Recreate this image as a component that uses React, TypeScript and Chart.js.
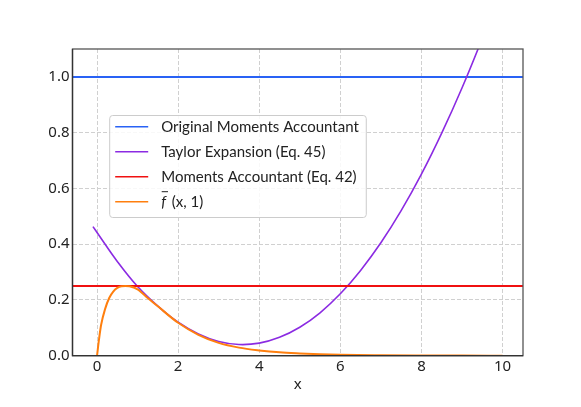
import React, { useEffect, useRef } from "react";
import { Chart, registerables } from "chart.js";

Chart.register(...registerables);

// Axis ranges and ticks
const X_MIN = -0.605;
const X_MAX = 10.505;
const Y_MIN = 0;
const Y_MAX = 1.1;
const xTickValues = [0, 2, 4, 6, 8, 10];
const yTickValues = [0, 0.2, 0.4, 0.6, 0.8, 1.0];

// Constant levels
const originalMomentsLevel = 1.0;
const momentsAccountantLevel = 0.25;

// Taylor Expansion (Eq. 45)
const taylorX = [-0.1, 0, 0.5, 1.0, 1.5, 2.0, 2.5, 3.0, 3.5, 4.0, 4.5, 5.0, 5.5, 6.0, 6.5, 7.0, 7.5, 8.0, 8.5, 9.0, 9.5, 10.0];
const taylorY = [0.463, 0.442, 0.338, 0.248, 0.178, 0.120, 0.078, 0.051, 0.040, 0.045, 0.066, 0.102, 0.154, 0.222, 0.306, 0.405, 0.520, 0.651, 0.798, 0.960, 1.138, 1.33];

// f-bar(x, 1)
const fbarX = [0, 0.05, 0.1, 0.2, 0.3, 0.4, 0.5, 0.6, 0.7, 0.8, 1.0, 1.25, 1.5, 2.0, 2.5, 3.0, 3.5, 4.0, 4.5, 5.0, 5.5, 6.0, 7.0, 8.0, 9.0, 10.0];
const fbarY = [0, 0.06, 0.11, 0.168, 0.207, 0.23, 0.243, 0.249, 0.25, 0.249, 0.238, 0.207, 0.177, 0.118, 0.075, 0.046, 0.029, 0.019, 0.012, 0.008, 0.005, 0.003, 0.0015, 0.0008, 0.0004, 0.0002];

const seriesLabels = [
  "Original Moments Accountant",
  "Taylor Expansion (Eq. 45)",
  "Moments Accountant (Eq. 42)",
  "f̄ (x, 1)",
];
const seriesColors = ["#2962f5", "#8b2be2", "#f01010", "#ff7f0e"];

const FONT_FAMILY = "'Noto Sans', sans-serif";
const LEGEND_FONT = "Lato, 'Noto Sans', sans-serif";
const TEXT_COLOR = "#222222";

const frameAndLegendPlugin = {
  id: "frameAndLegend",
  afterDatasetsDraw(chart: any) {
    const { ctx, chartArea } = chart;
    ctx.save();
    // frame
    ctx.lineWidth = 1.3;
    ctx.strokeStyle = "#555555";
    ctx.strokeRect(chartArea.left, chartArea.top, chartArea.right - chartArea.left, chartArea.bottom - chartArea.top);
    ctx.strokeStyle = "#333333";
    ctx.beginPath();
    ctx.moveTo(chartArea.left, chartArea.top);
    ctx.lineTo(chartArea.left, chartArea.bottom);
    ctx.lineTo(chartArea.right, chartArea.bottom);
    ctx.stroke();

    // legend
    const fontSize = 15;
    ctx.font = `${fontSize}px ${LEGEND_FONT}`;
    const boxLeft = chartArea.left + 36.7;
    const boxTop = chartArea.top + 66;
    const rowH = 25;
    const firstRowY = boxTop + 11.7;
    const lineX0 = boxLeft + 6;
    const lineX1 = boxLeft + 39;
    const textX = boxLeft + 52;
    let maxW = 0;
    seriesLabels.forEach((l) => {
      maxW = Math.max(maxW, ctx.measureText(l).width);
    });
    const boxW = textX - boxLeft + maxW + 7;
    const boxH = rowH * seriesLabels.length + 2;
    ctx.fillStyle = "rgba(255,255,255,0.85)";
    ctx.strokeStyle = "#cccccc";
    ctx.lineWidth = 1;
    ctx.beginPath();
    (ctx as any).roundRect(boxLeft + 0.5, boxTop + 0.5, boxW, boxH, 3);
    ctx.fill();
    ctx.stroke();

    ctx.textBaseline = "middle";
    ctx.textAlign = "left";
    seriesLabels.forEach((label, i) => {
      const y = firstRowY + i * rowH;
      ctx.strokeStyle = seriesColors[i];
      ctx.lineWidth = 1.6;
      ctx.beginPath();
      ctx.moveTo(lineX0, y);
      ctx.lineTo(lineX1, y);
      ctx.stroke();
      ctx.fillStyle = TEXT_COLOR;
      if (label.startsWith("f̄")) {
        ctx.font = `italic ${fontSize}px ${LEGEND_FONT}`;
        ctx.fillText("f", textX, y);
        const fw = ctx.measureText("f").width;
        ctx.strokeStyle = TEXT_COLOR;
        ctx.lineWidth = 1;
        ctx.beginPath();
        ctx.moveTo(textX + 0.5, y - 10);
        ctx.lineTo(textX + fw + 2, y - 10);
        ctx.stroke();
        ctx.font = `${fontSize}px ${LEGEND_FONT}`;
        ctx.fillText(label.slice(2), textX + fw + 2, y);
      } else {
        ctx.fillText(label, textX, y);
      }
    });
    ctx.restore();
  },
};

export default function App() {
  const canvasRef = useRef<HTMLCanvasElement | null>(null);

  useEffect(() => {
    if (!canvasRef.current) return;
    const toPts = (xs: number[], ys: number[]) => xs.map((x, i) => ({ x, y: ys[i] }));
    const chart = new Chart(canvasRef.current, {
      type: "line",
      data: {
        datasets: [
          {
            label: seriesLabels[0],
            data: [
              { x: X_MIN, y: originalMomentsLevel },
              { x: X_MAX, y: originalMomentsLevel },
            ],
            borderColor: seriesColors[0],
            borderWidth: 2,
            pointRadius: 0,
            order: 4,
          },
          {
            label: seriesLabels[1],
            data: toPts(taylorX, taylorY),
            borderColor: seriesColors[1],
            borderWidth: 1.6,
            pointRadius: 0,
            tension: 0.4,
            order: 3,
          },
          {
            label: seriesLabels[2],
            data: [
              { x: X_MIN, y: momentsAccountantLevel },
              { x: X_MAX, y: momentsAccountantLevel },
            ],
            borderColor: seriesColors[2],
            borderWidth: 1.8,
            pointRadius: 0,
            order: 2,
          },
          {
            label: seriesLabels[3],
            data: toPts(fbarX, fbarY),
            borderColor: seriesColors[3],
            borderWidth: 2,
            pointRadius: 0,
            cubicInterpolationMode: "monotone",
            order: 1,
          },
        ],
      },
      options: {
        responsive: false,
        animation: false,
        layout: { padding: { top: 49, right: 58, bottom: 10, left: 0 } },
        plugins: { legend: { display: false }, tooltip: { enabled: false } },
        scales: {
          x: {
            type: "linear",
            min: X_MIN,
            max: X_MAX,
            afterBuildTicks: (s: any) => {
              s.ticks = xTickValues.map((v) => ({ value: v }));
            },
            afterFit: (s: any) => {
              s.height = 41.3;
            },
            grid: { color: "#d0d0d0", lineWidth: 1, drawTicks: false },
            border: { display: false, dash: [4, 2] },
            ticks: {
              autoSkip: false,
              maxRotation: 0,
              padding: 2,
              color: TEXT_COLOR,
              font: { family: FONT_FAMILY, size: 15 },
              callback: (v: any) => String(v),
            },
            title: {
              display: true,
              text: "x",
              color: TEXT_COLOR,
              font: { family: FONT_FAMILY, size: 15 },
              padding: { top: 0, bottom: 3.5 },
            },
          },
          y: {
            type: "linear",
            min: Y_MIN,
            max: Y_MAX,
            afterBuildTicks: (s: any) => {
              s.ticks = yTickValues.map((v) => ({ value: v }));
            },
            afterFit: (s: any) => {
              s.width = 72.5;
            },
            grid: { color: "#d0d0d0", lineWidth: 1, drawTicks: false },
            border: { display: false, dash: [4, 2] },
            ticks: {
              autoSkip: false,
              padding: 3,
              color: TEXT_COLOR,
              font: { family: FONT_FAMILY, size: 15 },
              callback: (v: any) => Number(v).toFixed(1),
            },
          },
        },
      },
      plugins: [frameAndLegendPlugin],
    });
    return () => chart.destroy();
  }, []);

  return (
    <div style={{ position: "fixed", left: 0, top: 0, width: 581, height: 407, background: "#ffffff" }}>
      <canvas ref={canvasRef} width={581} height={407} style={{ display: "block" }} />
    </div>
  );
}
